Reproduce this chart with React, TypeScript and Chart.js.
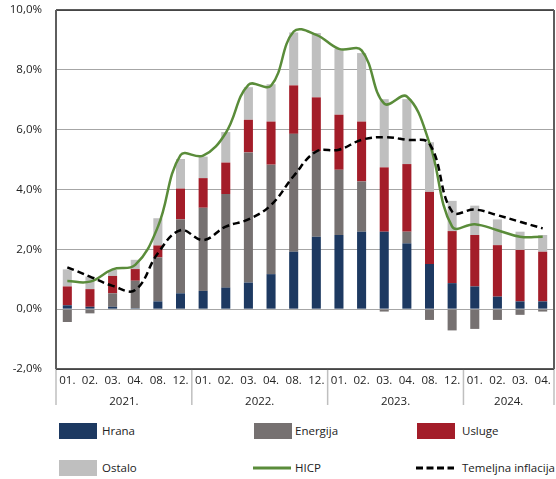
import { useEffect, useRef } from 'react';
import { Chart, registerables } from 'chart.js';

Chart.register(...registerables);

const FONT = '"Open Sans", "Noto Sans", sans-serif';

const months = [
  '01.', '02.', '03.', '04.', '08.', '12.',
  '01.', '02.', '03.', '04.', '08.', '12.',
  '01.', '02.', '03.', '04.', '08.', '12.',
  '01.', '02.', '03.', '04.',
];
const yearLabels = ['2021.', '2022.', '2023.', '2024.'];
const yearSpans = [6, 6, 6, 4];

const hrana = [0.13, 0.08, 0.08, 0.03, 0.26, 0.53, 0.61, 0.72, 0.89, 1.17, 1.92, 2.42, 2.48, 2.59, 2.59, 2.2, 1.51, 0.87, 0.76, 0.42, 0.26, 0.26];
const energija = [-0.43, -0.14, 0.45, 0.92, 1.47, 2.47, 2.78, 3.13, 4.35, 3.66, 3.94, 2.85, 2.18, 1.68, -0.08, 0.39, -0.36, -0.71, -0.66, -0.36, -0.19, -0.08];
const usluge = [0.63, 0.59, 0.58, 0.39, 0.4, 1.03, 0.99, 1.05, 1.09, 1.44, 1.62, 1.81, 1.84, 2.0, 2.15, 2.26, 2.41, 1.74, 1.72, 1.72, 1.72, 1.66];
const ostalo = [0.57, 0.42, 0.2, 0.31, 0.91, 0.99, 0.72, 1.02, 1.09, 1.25, 1.77, 2.15, 2.2, 2.29, 2.28, 2.17, 1.66, 1.01, 0.98, 0.86, 0.61, 0.56];
const hicp = [0.94, 0.92, 1.33, 1.48, 2.75, 5.15, 5.13, 5.89, 7.5, 7.47, 9.28, 9.17, 8.7, 8.65, 6.87, 7.11, 5.55, 2.76, 2.84, 2.64, 2.42, 2.42];
const temeljna = [1.4, 1.09, 0.78, 0.64, 1.87, 2.64, 2.31, 2.76, 3.0, 3.48, 4.45, 5.27, 5.33, 5.66, 5.75, 5.66, 5.53, 3.26, 3.33, 3.14, 2.92, 2.7];

const C_HRANA = '#1d3961';
const C_ENERGIJA = '#767171';
const C_USLUGE = '#a31d29';
const C_OSTALO = '#bfbfbf';
const C_HICP = '#5a8c3a';

const framePlugin = {
  id: 'framePlugin',
  afterDraw(chart: any) {
    const { ctx, chartArea: a } = chart;
    const x = chart.scales.x;
    ctx.save();
    // year separators and labels
    ctx.strokeStyle = '#bfbfbf';
    ctx.lineWidth = 1.5;
    ctx.fillStyle = '#222';
    ctx.font = `11.5px ${FONT}`;
    ctx.textAlign = 'center';
    ctx.textBaseline = 'middle';
    let idx = 0;
    const boundary = (i: number) => {
      if (i <= 0) return a.left;
      if (i >= months.length) return a.right;
      return (x.getPixelForValue(i - 1) + x.getPixelForValue(i)) / 2;
    };
    for (let g = 0; g < yearSpans.length; g++) {
      const l = boundary(idx);
      const r = boundary(idx + yearSpans[g]);
      ctx.beginPath();
      ctx.moveTo(l, a.bottom);
      ctx.lineTo(l, a.bottom + 36);
      ctx.stroke();
      if (g === yearSpans.length - 1) {
        ctx.beginPath();
        ctx.moveTo(r, a.bottom);
        ctx.lineTo(r, a.bottom + 36);
        ctx.stroke();
      }
      ctx.fillText(yearLabels[g], (l + r) / 2, a.bottom + 33);
      idx += yearSpans[g];
    }
    // frame
    ctx.lineWidth = 1.5;
    ctx.strokeStyle = '#262626';
    ctx.beginPath();
    ctx.moveTo(a.left, a.top);
    ctx.lineTo(a.right, a.top);
    ctx.moveTo(a.left, a.bottom);
    ctx.lineTo(a.right, a.bottom);
    ctx.stroke();
    ctx.lineWidth = 2;
    ctx.strokeStyle = '#5e5e5e';
    ctx.beginPath();
    ctx.moveTo(a.left, a.top);
    ctx.lineTo(a.left, a.bottom);
    ctx.moveTo(a.right, a.top);
    ctx.lineTo(a.right, a.bottom);
    ctx.stroke();
    ctx.restore();
  },
};

export default function App() {
  const ref = useRef<HTMLCanvasElement>(null);
  useEffect(() => {
    const bar = (label: string, data: number[], color: string) => ({
      type: 'bar' as const,
      label,
      data,
      backgroundColor: color,
      stack: 'komponente',
      order: 2,
      barPercentage: 0.4,
      categoryPercentage: 1,
    });
    const chart = new Chart(ref.current!, {
      type: 'bar',
      data: {
        labels: months,
        datasets: [
          bar('Hrana', hrana, C_HRANA),
          bar('Energija', energija, C_ENERGIJA),
          bar('Usluge', usluge, C_USLUGE),
          bar('Ostalo', ostalo, C_OSTALO),
          {
            type: 'line',
            label: 'HICP',
            data: hicp,
            borderColor: C_HICP,
            borderWidth: 2.5,
            pointRadius: 0,
            tension: 0.4,
            fill: false,
            stack: 'hicp',
            order: 1,
          } as any,
          {
            type: 'line',
            label: 'Temeljna inflacija',
            data: temeljna,
            borderColor: '#000',
            borderWidth: 2.5,
            borderDash: [7, 4],
            pointRadius: 0,
            tension: 0.4,
            fill: false,
            stack: 'temeljna',
            order: 0,
          } as any,
        ],
      },
      options: {
        responsive: false,
        animation: false,
        layout: { padding: { top: 10, right: 2, left: 0, bottom: 0 } },
        plugins: { legend: { display: false }, tooltip: { enabled: false } },
        scales: {
          x: {
            stacked: true,
            grid: { display: false, drawTicks: false },
            border: { display: false },
            ticks: {
              autoSkip: false,
              maxRotation: 0,
              padding: 5,
              color: '#222',
              font: { family: FONT, size: 11.5 },
            },
            afterFit(s: any) {
              s.height = 46;
              s.paddingLeft = 0;
              s.paddingRight = 0;
            },
          },
          y: {
            stacked: true,
            min: -2,
            max: 10,
            grid: { color: '#a6a6a6', lineWidth: 1, drawTicks: false },
            border: { display: false },
            ticks: {
              stepSize: 2,
              padding: 14,
              color: '#222',
              font: { family: FONT, size: 11.5 },
              callback: (v: any) => Number(v).toFixed(1).replace('.', ',') + '%',
            },
            afterFit(s: any) {
              s.width = 56;
              s.paddingTop = 0;
              s.paddingBottom = 0;
            },
          },
        },
      },
      plugins: [framePlugin],
    });
    return () => chart.destroy();
  }, []);

  const textStyle = (left: number, top: number) => ({
    position: 'absolute' as const,
    left,
    top: top - 9,
    height: 18,
    lineHeight: '18px',
    fontSize: '11.5px',
    color: '#222',
    whiteSpace: 'nowrap' as const,
  });
  const box = (left: number, top: number, color: string) => (
    <div style={{ position: 'absolute', left, top: top - 8, width: 38, height: 16, background: color }} />
  );
  const r1 = 431;
  const r2 = 468;

  return (
    <div style={{ position: 'absolute', left: 0, top: 0, width: 556, height: 479, background: '#fff', fontFamily: FONT, overflow: 'hidden' }}>
      <canvas ref={ref} width={556} height={415} style={{ position: 'absolute', left: 0, top: 0 }} />
      {box(59, r1, C_HRANA)}
      <div style={textStyle(102, r1)}>Hrana</div>
      {box(254, r1, C_ENERGIJA)}
      <div style={textStyle(295, r1)}>Energija</div>
      {box(417, r1, C_USLUGE)}
      <div style={textStyle(462, r1)}>Usluge</div>
      {box(59, r2, C_OSTALO)}
      <div style={textStyle(102, r2)}>Ostalo</div>
      <svg style={{ position: 'absolute', left: 253, top: r2 - 3 }} width={38} height={6}>
        <line x1={0} y1={3} x2={38} y2={3} stroke={C_HICP} strokeWidth={3} />
      </svg>
      <div style={textStyle(295, r2)}>HICP</div>
      <svg style={{ position: 'absolute', left: 416, top: r2 - 3 }} width={40} height={6}>
        <line x1={0} y1={3} x2={38} y2={3} stroke="#000" strokeWidth={3} strokeDasharray="7 3.5" />
      </svg>
      <div style={textStyle(462, r2)}>Temeljna inflacija</div>
    </div>
  );
}
